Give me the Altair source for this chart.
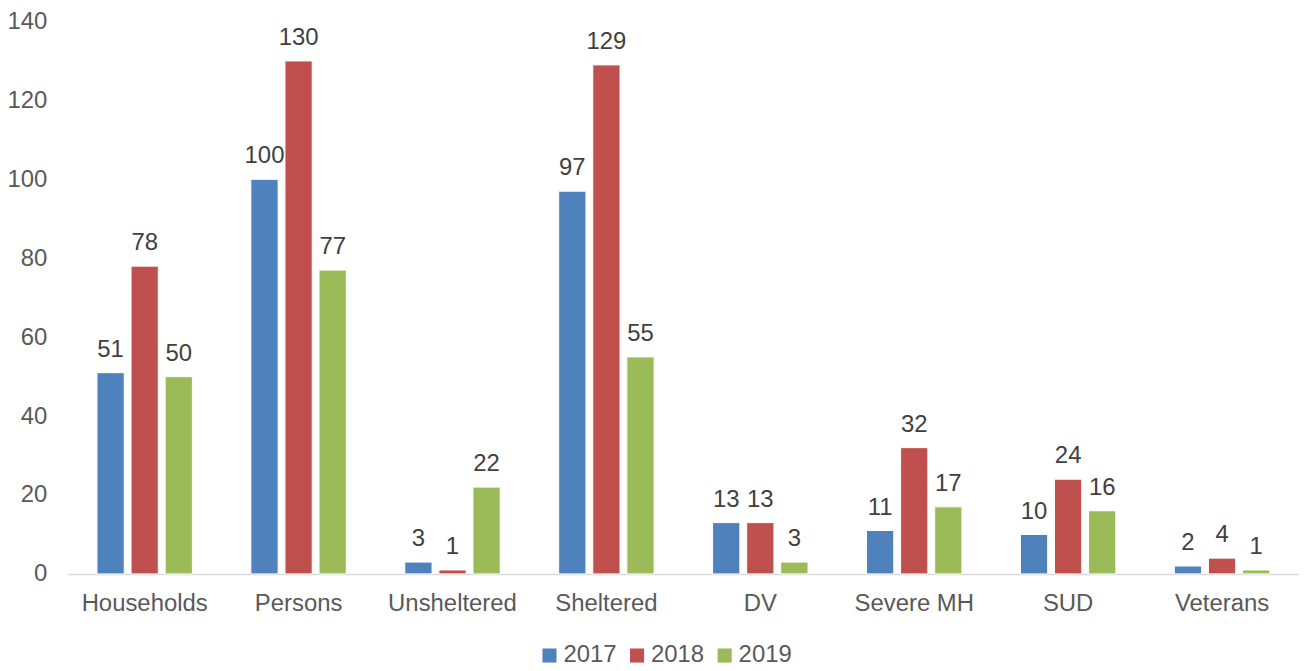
import altair as alt
import pandas as pd

categories = ["Households", "Persons", "Unsheltered", "Sheltered", "DV", "Severe MH", "SUD", "Veterans"]
years = ["2017", "2018", "2019"]
v2017 = [51, 100, 3, 97, 13, 11, 10, 2]
v2018 = [78, 130, 1, 129, 13, 32, 24, 4]
v2019 = [50, 77, 22, 55, 3, 17, 16, 1]
colors = ["#4F81BD", "#C0504D", "#9BBB59"]

rows = []
for yr, vals in zip(years, [v2017, v2018, v2019]):
    for c, v in zip(categories, vals):
        rows.append({"category": c, "year": yr, "value": v})
df = pd.DataFrame(rows)

font = "Liberation Sans"
fs = 24

x = alt.X("category:N", sort=categories, title=None,
          scale=alt.Scale(paddingInner=0.38, paddingOuter=0.19),
          axis=alt.Axis(labelAngle=0, labelFontSize=fs, labelColor="#595959", labelFont=font,
                        ticks=False, domainColor="#D9D9D9", domainWidth=1.5, labelPadding=18))
xo = alt.XOffset("year:N", scale=alt.Scale(paddingInner=0.2, paddingOuter=0))
y = alt.Y("value:Q", title=None,
          scale=alt.Scale(domain=[0, 140], nice=False),
          axis=alt.Axis(values=[0, 20, 40, 60, 80, 100, 120, 140], grid=False, domain=False, ticks=False,
                        labelFontSize=fs, labelColor="#595959", labelFont=font, labelPadding=21))
color = alt.Color("year:N", scale=alt.Scale(domain=years, range=colors),
                  legend=alt.Legend(title=None, orient="none", legendX=472, legendY=625,
                                    direction="horizontal", symbolType="square", symbolSize=200,
                                    symbolStrokeWidth=0, labelFontSize=fs, labelColor="#595959",
                                    labelFont=font, columnPadding=8, labelOffset=2))

base = alt.Chart(df)
bars = base.mark_bar(stroke="white", strokeWidth=1).encode(x=x, xOffset=xo, y=y, color=color)
labels = base.mark_text(baseline="alphabetic", dy=-16, fontSize=fs, color="#404040", font=font).encode(
    x=x, xOffset=xo, y=y, text="value:Q")

chart = (bars + labels).properties(
    width=1237, height=555,
    autosize=alt.AutoSizeParams(type="none"),
    padding={"left": 60, "top": 12, "right": 0, "bottom": 96},
).configure_view(stroke=None)

chart.save("out.html", embed_options={"renderer": "svg", "actions": False})
